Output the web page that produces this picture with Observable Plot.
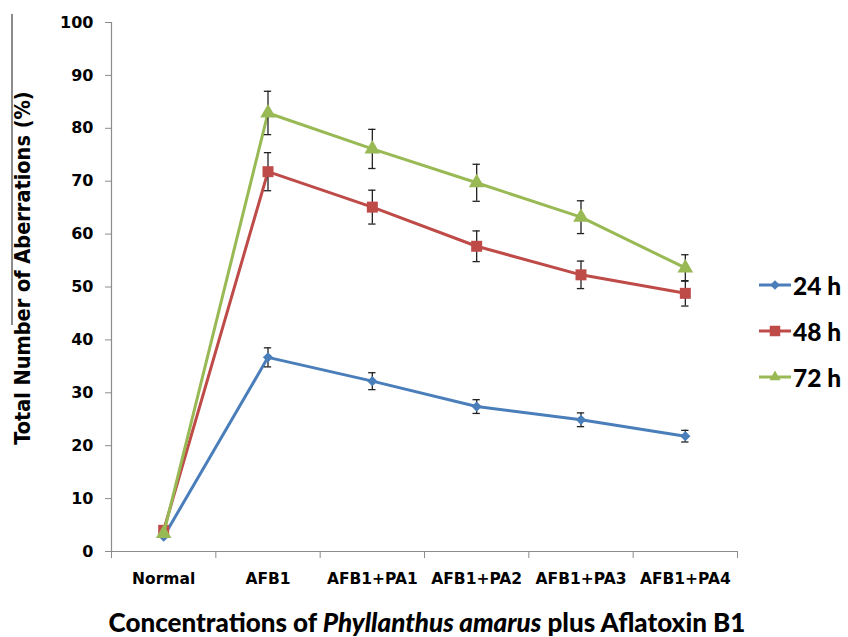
<!DOCTYPE html>
<html>
<head>
<meta charset="utf-8">
<script src="https://cdn.jsdelivr.net/npm/d3@7"></script>
<script src="https://cdn.jsdelivr.net/npm/@observablehq/plot@0.6"></script>
<style>
  html, body { margin: 0; padding: 0; background: #fff; }
  #wrap { position: relative; width: 848px; height: 637px; overflow: hidden; }
  #ytitle { position: absolute; left: 22px; top: 268px; transform: translate(-50%, -50%) rotate(-90deg);
    white-space: nowrap; font-family: "DejaVu Sans Condensed", "DejaVu Sans", sans-serif; font-stretch: condensed;
    font-weight: bold; font-size: 21.5px; color: #000; }
  #xtitle { position: absolute; left: 427px; top: 609px; transform: translateX(-50%);
    white-space: nowrap; font-family: Lato, "Open Sans", sans-serif; font-weight: 900; font-size: 26px; color: #000; line-height: 1; }
  #stray { position: absolute; left: 11px; top: 14px; width: 1.5px; height: 311px; background: #8c8c8c; }
  #legend { position: absolute; left: 758px; top: 262px; font-family: Lato, "Open Sans", sans-serif; font-weight: 900; font-size: 24.5px; color: #000; }
  .item { display: flex; align-items: center; height: 46px; }
  .item svg { margin-right: 1px; }
</style>
</head>
<body>
<div id="wrap">
  <div id="stray"></div>
  <div id="ytitle">Total Number of Aberrations (%)</div>
  <div id="xtitle">Concentrations of <i>Phyllanthus amarus</i> plus Aflatoxin B1</div>
  <div id="legend"></div>
</div>
<script>
const categories = ["Normal", "AFB1", "AFB1+PA1", "AFB1+PA2", "AFB1+PA3", "AFB1+PA4"];
const series = ["24 h", "48 h", "72 h"];
const values24 = [2.8, 36.7, 32.2, 27.4, 24.9, 21.8];
const err24    = [0, 1.8, 1.6, 1.3, 1.3, 1.1];
const values48 = [4.0, 71.8, 65.1, 57.7, 52.3, 48.8];
const err48    = [0, 3.6, 3.2, 2.9, 2.6, 2.4];
const values72 = [3.4, 82.9, 76.1, 69.7, 63.2, 53.6];
const err72    = [0, 4.1, 3.7, 3.5, 3.1, 2.5];
const yTicks = [0, 10, 20, 30, 40, 50, 60, 70, 80, 90, 100];
const colors = ["#4A7EBB", "#BE4B48", "#98B954"];
const symbols = ["diamond2", "square", "triangle"];
const markerR = [4.6, 6.2, 5.8];

const allValues = [values24, values48, values72];
const allErrs = [err24, err48, err72];
const rows = [];
series.forEach((s, si) => categories.forEach((c, i) => {
  rows.push({series: s, si, cat: c, pos: i + 0.5, value: allValues[si][i], err: allErrs[si][i]});
}));
const capHalf = 0.035;

const seriesMarks = [];
series.forEach((s, si) => {
  const r = rows.filter(d => d.si === si);
  const e = r.filter(d => d.err > 0);
  seriesMarks.push(
    Plot.line(r, {x: "pos", y: "value", stroke: "series", strokeWidth: 3}),
    Plot.ruleX(e, {x: "pos", y1: d => d.value - d.err, y2: d => d.value + d.err, stroke: "#222", strokeWidth: 1.3}),
    Plot.ruleY(e, {y: d => d.value + d.err, x1: d => d.pos - capHalf, x2: d => d.pos + capHalf, stroke: "#222", strokeWidth: 1.3}),
    Plot.ruleY(e, {y: d => d.value - d.err, x1: d => d.pos - capHalf, x2: d => d.pos + capHalf, stroke: "#222", strokeWidth: 1.3}),
    Plot.dot(r, {x: "pos", y: "value", symbol: "series", fill: "series", stroke: "none", r: markerR[si]})
  );
});

const chart = Plot.plot({
  width: 848, height: 637,
  marginLeft: 111, marginRight: 111, marginTop: 22, marginBottom: 86,
  style: {fontFamily: "'DejaVu Sans', sans-serif", color: "#000", background: "transparent"},
  x: {type: "linear", domain: [0, categories.length]},
  y: {domain: [0, 100]},
  color: {domain: series, range: colors},
  symbol: {domain: series, range: symbols},
  marks: [
    Plot.axisY({ticks: yTicks, tickSize: 6, tickPadding: 12, stroke: "#8c8c8c", fontSize: 16, fontWeight: "bold", label: null}),
    Plot.axisX({ticks: d3.range(0, categories.length + 1), tickFormat: () => "", tickSize: 7, stroke: "#8c8c8c", label: null}),
    Plot.axisX({ticks: categories.map((c, i) => i + 0.5), tickFormat: d => categories[Math.floor(d)], tickSize: 0, tickPadding: 21,
      fontSize: 15.5, fontWeight: "bold", label: null}),
    Plot.ruleX([0], {stroke: "#8c8c8c", strokeWidth: 1.2}),
    Plot.ruleY([0], {stroke: "#8c8c8c", strokeWidth: 1.2}),
    ...seriesMarks
  ]
});
document.getElementById("wrap").prepend(chart);

// legend
const legend = document.getElementById("legend");
series.forEach((s, i) => {
  const item = document.createElement("div");
  item.className = "item";
  const svg = d3.create("svg").attr("width", 34).attr("height", 20);
  svg.append("line").attr("x1", 1).attr("x2", 33).attr("y1", 10).attr("y2", 10).attr("stroke", colors[i]).attr("stroke-width", 3);
  const sym = {diamond2: d3.symbolDiamond2, square: d3.symbolSquare, triangle: d3.symbolTriangle2}[symbols[i]];
  const size = [60, 110, 90][i];
  svg.append("path").attr("d", d3.symbol(sym, size)()).attr("transform", "translate(17,10)").attr("fill", colors[i]);
  item.appendChild(svg.node());
  const t = document.createElement("span");
  t.textContent = s;
  item.appendChild(t);
  legend.appendChild(item);
});
</script>
</body>
</html>
